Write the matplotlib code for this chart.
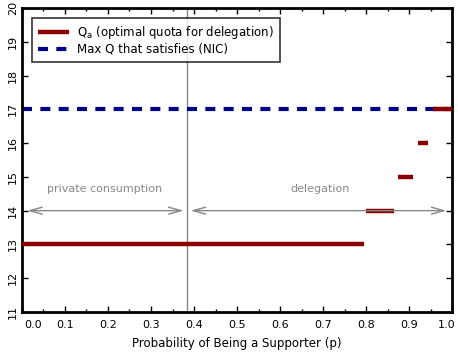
import matplotlib
matplotlib.use("Agg")
import matplotlib.pyplot as plt
from matplotlib.ticker import MultipleLocator
import matplotlib.transforms as mtransforms

# Data
qa_levels = [13, 14, 15, 16, 17]
qa_start = [0.0, 0.80, 0.875, 0.92, 0.955]
qa_end = [0.795, 0.865, 0.91, 0.945, 1.0]
nic_max_q = 17
p_threshold = 0.384
x_ticks = [0.0, 0.1, 0.2, 0.3, 0.4, 0.5, 0.6, 0.7, 0.8, 0.9, 1.0]
y_ticks = [11, 12, 13, 14, 15, 16, 17, 18, 19, 20]

fig = plt.figure(figsize=(4.58, 3.56), dpi=100)
ax = fig.add_axes([0.048, 0.1236, 0.939, 0.854])

red = "#8b0000"
navy = "#00008b"
grey = "#888888"

# Q_a segments
for i, (q, s, e) in enumerate(zip(qa_levels, qa_start, qa_end)):
    ax.plot([s, e], [q, q], color=red, lw=3.2, solid_capstyle="butt",
            label=r"Q$_\mathrm{a}$ (optimal quota for delegation)" if i == 0 else None, zorder=3)

ax.plot([0, 1], [nic_max_q, nic_max_q], color=navy, lw=3, dashes=(2.4, 2.0),
        label="Max Q that satisfies (NIC)", zorder=2)

# vertical line
ax.axvline(p_threshold, color=grey, lw=1, zorder=1)

# arrows
arrow_kw = dict(arrowstyle="<->,head_length=0.9,head_width=0.25", color=grey, lw=1, shrinkA=0, shrinkB=0)
ax.annotate("", xy=(0.012, 14), xytext=(p_threshold - 0.008, 14), arrowprops=arrow_kw, zorder=4)
ax.annotate("", xy=(p_threshold + 0.008, 14), xytext=(0.987, 14), arrowprops=arrow_kw, zorder=4)

ax.text(p_threshold / 2, 14.65, "private consumption", color=grey, fontsize=8,
        ha="center", va="center")
ax.text((p_threshold + 1.0) / 2, 14.65, "delegation", color=grey, fontsize=8,
        ha="center", va="center")

ax.set_xlim(0, 1)
ax.set_ylim(11, 20)
ax.set_xticks(x_ticks)
ax.set_xticklabels([f"{v:.1f}" for v in x_ticks], fontsize=8)
ax.xaxis.set_minor_locator(MultipleLocator(0.05))
ax.set_yticks(y_ticks)
ax.set_yticklabels([str(v) for v in y_ticks], fontsize=8, rotation=90, va="center")
ax.tick_params(direction="in", top=True, right=True, length=4, width=1, pad=6)
ax.tick_params(which="minor", direction="in", top=True, bottom=True, length=2, width=1)
ax.tick_params(axis="y", pad=3)
for sp in ax.spines.values():
    sp.set_linewidth(2)

# shift end labels inward as in reference
xl = ax.get_xticklabels()
xl[0].set_transform(xl[0].get_transform() + mtransforms.ScaledTranslation(11/100, 0, fig.dpi_scale_trans))
xl[-1].set_transform(xl[-1].get_transform() + mtransforms.ScaledTranslation(-5/100, 0, fig.dpi_scale_trans))

ax.set_xlabel("Probability of Being a Supporter (p)", fontsize=8.5, labelpad=5)

leg = ax.legend(loc="upper left", bbox_to_anchor=(0.024, 0.966), fontsize=8.5, frameon=True,
                fancybox=False, edgecolor="black", handlelength=2.6, handletextpad=0.7,
                borderpad=0.5, labelspacing=0.15, borderaxespad=0)
leg.get_frame().set_linewidth(1.2)

fig.savefig("out.png", dpi=100)
